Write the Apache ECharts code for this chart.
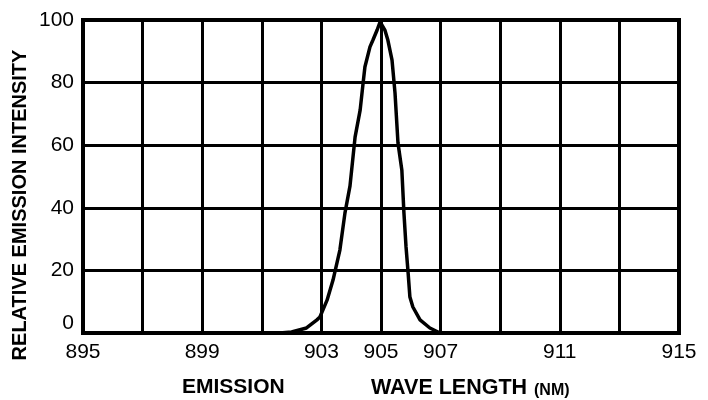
<!DOCTYPE html>
<html>
<head>
<meta charset="utf-8">
<script src="https://cdn.jsdelivr.net/npm/echarts@6/dist/echarts.min.js"></script>
<style>
html,body{margin:0;padding:0;background:#fff;}
#chart{width:708px;height:400px;}
</style>
</head>
<body>
<div id="chart"></div>
<script>
// Wavelength (nm) and relative emission intensity
var wavelength = [901.6, 902.0, 902.5, 902.85, 902.95, 903.19, 903.39, 903.62, 903.79, 903.96, 904.13, 904.30, 904.40, 904.46, 904.63, 904.73, 904.87, 904.97, 905.03, 905.13, 905.23, 905.37, 905.47, 905.57, 905.70, 905.77, 905.84, 905.91, 905.97, 906.07, 906.31, 906.64, 906.98];
var intensity  = [0, 0.3, 1.6, 4.2, 5.1, 10.5, 16.9, 26.5, 38.3, 47, 62.6, 71.2, 79.9, 85, 91.4, 93.6, 96.8, 99.4, 100, 96.8, 93.6, 87.2, 76.7, 60.7, 52, 38.3, 27.5, 19.2, 11.5, 8.3, 4.2, 1.6, 0];
var xTickLabels = [895, 899, 903, 905, 907, 911, 915];
var yTickLabels = [0, 20, 40, 60, 80, 100];
var yAxisTitle = 'RELATIVE EMISSION INTENSITY';
var xAxisTitle1 = 'EMISSION';
var xAxisTitle2 = 'WAVE LENGTH';
var xAxisUnit = '(NM)';

var chart = echarts.init(document.getElementById('chart'), null, {renderer: 'canvas'});
var FONT = '"Liberation Sans", Arial, Helvetica, sans-serif';
var seriesData = wavelength.map(function (w, i) { return [w, intensity[i]]; });

chart.setOption({
  animation: false,
  backgroundColor: '#fff',
  grid: {left: 83, right: 29, top: 20, bottom: 67, show: true, borderColor: '#000', borderWidth: 4, backgroundColor: 'transparent'},
  xAxis: {
    type: 'value', min: 895, max: 915, interval: 2,
    axisLine: {show: false},
    axisTick: {show: false},
    splitLine: {show: true, lineStyle: {color: '#000', width: 3}},
    axisLabel: {
      margin: 9, color: '#000', fontSize: 21, fontFamily: FONT,
      formatter: function (v) { return xTickLabels.indexOf(v) >= 0 ? String(v) : ''; }
    }
  },
  yAxis: {
    type: 'value', min: 0, max: 100, interval: 20,
    axisLine: {show: false},
    axisTick: {show: false},
    splitLine: {show: true, lineStyle: {color: '#000', width: 3}},
    axisLabel: {
      margin: 9, color: '#000', fontSize: 21, fontFamily: FONT,
      formatter: function (v) { return yTickLabels.indexOf(v) >= 0 ? (v === 0 ? '{z|0}' : String(v)) : ''; },
      rich: {z: {fontSize: 21, fontFamily: FONT, color: '#000', padding: [0, 0, 20, 0]}}
    }
  },
  series: [{
    type: 'line', data: seriesData, symbol: 'none', smooth: false, z: 5,
    lineStyle: {color: '#000', width: 3.5}
  }],
  graphic: [
    {type: 'text', left: 182, top: 377, style: {text: xAxisTitle1, font: 'bold 21px ' + FONT, fill: '#000'}},
    {type: 'text', left: 371, top: 377, style: {text: xAxisTitle2, font: 'bold 21.5px ' + FONT, fill: '#000'}},
    {type: 'text', left: 534, top: 383, style: {text: xAxisUnit, font: 'bold 16px ' + FONT, fill: '#000'}},
    {type: 'text', x: 20, y: 205, rotation: Math.PI / 2,
     style: {text: yAxisTitle, font: 'bold 20px ' + FONT, fill: '#000', textAlign: 'center', textVerticalAlign: 'middle'}}
  ]
});
</script>
</body>
</html>
